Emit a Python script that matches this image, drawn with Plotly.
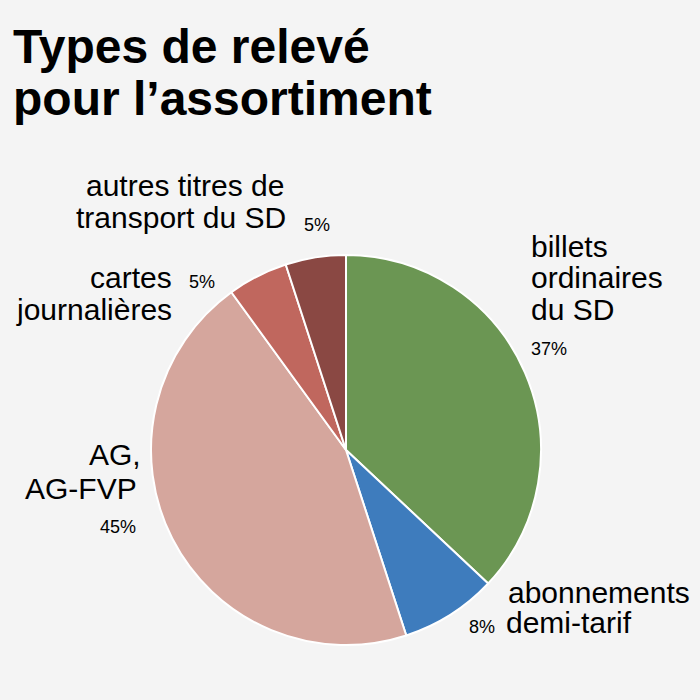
import plotly.graph_objects as go

# ---- data ----
categories = ["billets ordinaires du SD", "abonnements demi-tarif", "AG, AG-FVP",
              "cartes journalières", "autres titres de transport du SD"]
values = [37, 8, 45, 5, 5]
colors = ["#6b9653", "#3e7cbd", "#d5a69d", "#c0675e", "#8a4843"]
title_lines = ["Types de relevé", "pour l’assortiment"]

W = H = 700
FONT = "Liberation Sans, Arial, sans-serif"
BG = "#f4f4f4"

fig = go.Figure()
cx, cy, r = 346, 450, 195
fig.add_trace(go.Pie(
    labels=categories, values=values, sort=False, direction="clockwise", rotation=0,
    marker=dict(colors=colors, line=dict(color="white", width=2)),
    textinfo="none", hoverinfo="skip", showlegend=False,
    domain=dict(x=[(cx - r) / W, (cx + r) / W], y=[1 - (cy + r) / H, 1 - (cy - r) / H]),
))

def px_ann(text, x, baseline, size, anchor, bold=False):
    cyy = baseline - 0.35 * size
    fig.add_annotation(text=f"<b>{text}</b>" if bold else text,
                       x=x / W, y=1 - cyy / H, xref="paper", yref="paper",
                       xanchor=anchor, yanchor="middle", showarrow=False,
                       font=dict(family=FONT, size=size, color="#000"))

# title
px_ann(title_lines[0], 11, 63, 48, "left", bold=True)
px_ann(title_lines[1], 11, 115, 48, "left", bold=True)

LS = 30
PS = 18
pct = [f"{v}%" for v in values]
# autres titres
px_ann("autres titres de", 286, 196, LS, "right")
px_ann("transport du SD", 288, 228, LS, "right")
px_ann(pct[4], 302, 231, PS, "left")
# cartes journalières
px_ann("cartes", 174, 288, LS, "right")
px_ann("journalières", 174, 320, LS, "right")
px_ann(pct[3], 187, 288, PS, "left")
# billets
px_ann("billets", 529, 257, LS, "left")
px_ann("ordinaires", 529, 288, LS, "left")
px_ann("du SD", 529, 320, LS, "left")
px_ann(pct[0], 529, 355, PS, "left")
# abonnements
px_ann("abonnements", 506, 603, LS, "left")
px_ann("demi-tarif", 504, 633, LS, "left")
px_ann(pct[1], 467, 633, PS, "left")
# AG
px_ann("AG,", 143, 465, LS, "right")
px_ann("AG-FVP", 139, 499, LS, "right")
px_ann(pct[2], 138, 533, PS, "right")

fig.update_layout(width=W, height=H, margin=dict(l=0, r=0, t=0, b=0),
                  paper_bgcolor=BG, plot_bgcolor=BG)
fig.write_html("out.html")
